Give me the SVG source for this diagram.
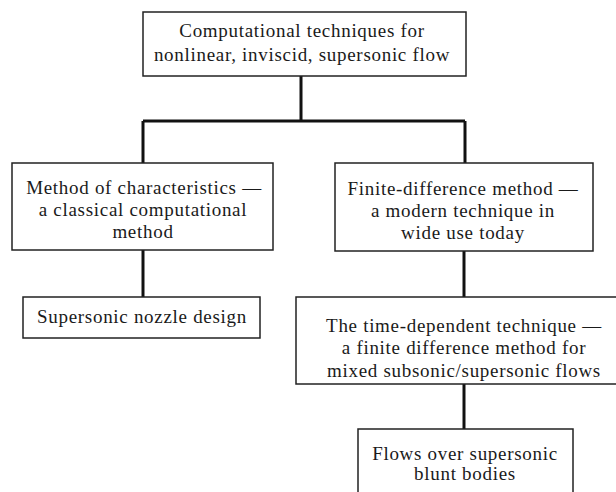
<svg xmlns="http://www.w3.org/2000/svg" width="616" height="492" viewBox="0 0 616 492">
<style>
.box{fill:#fff;stroke:#222;stroke-width:1.5}
.t{font-family:"Liberation Serif","Times New Roman",serif;font-size:19px;fill:#1a1a1a;text-anchor:middle;letter-spacing:0.7px}
.c{stroke:#111;stroke-width:3;fill:none}
</style>
<rect width="616" height="492" fill="#fff"/>
<g id="connectors">
<path class="c" d="M301 76V121M143 121H465M143 121V163M465 121V163"/>
<path class="c" d="M143 250V297"/>
<path class="c" d="M464 251V297"/>
<path class="c" d="M464 384V429"/>
</g>
<g id="n1"><rect class="box" x="143" y="12" width="323" height="64"/>
<text class="t" x="302" y="37">Computational techniques for</text>
<text class="t" x="302" y="61">nonlinear, inviscid, supersonic flow</text></g>
<g id="n2"><rect class="box" x="12" y="163" width="261" height="87"/>
<text class="t" x="144" y="194">Method of characteristics —</text>
<text class="t" x="143" y="216">a classical computational</text>
<text class="t" x="143" y="238">method</text></g>
<g id="n3"><rect class="box" x="335" y="163" width="258" height="88"/>
<text class="t" x="463" y="195">Finite-difference method —</text>
<text class="t" x="463" y="217">a modern technique in</text>
<text class="t" x="463" y="239">wide use today</text></g>
<g id="n4"><rect class="box" x="23" y="297" width="237" height="41"/>
<text class="t" x="142" y="323">Supersonic nozzle design</text></g>
<g id="n5"><rect class="box" x="296" y="297" width="336" height="87"/>
<text class="t" x="464" y="332">The time-dependent technique —</text>
<text class="t" x="464" y="354">a finite difference method for</text>
<text class="t" x="464" y="377">mixed subsonic/supersonic flows</text></g>
<g id="n6"><rect class="box" x="358" y="429" width="215" height="80"/>
<text class="t" x="465" y="460">Flows over supersonic</text>
<text class="t" x="465" y="480">blunt bodies</text></g>
</svg>
